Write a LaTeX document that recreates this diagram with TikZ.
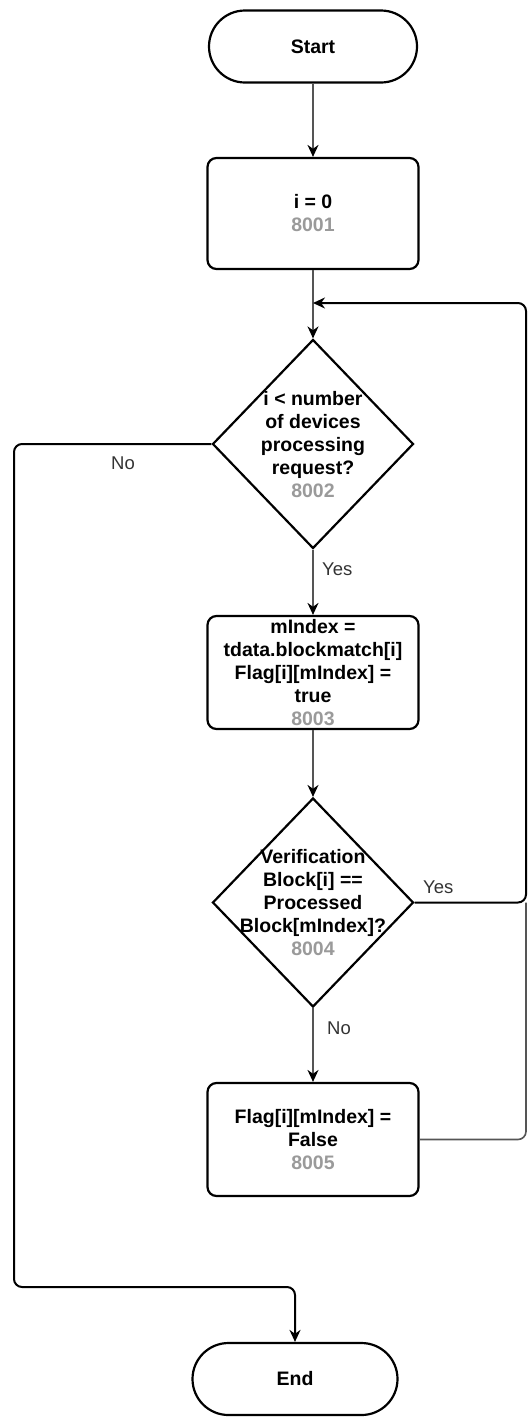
\documentclass[tikz,border=0pt]{standalone}
\usepackage{fontspec}
\setmainfont{Liberation Sans}
\usetikzlibrary{shapes.geometric,arrows.meta}
\definecolor{numgray}{HTML}{9A9A9A}
\definecolor{linegray}{HTML}{555555}
\definecolor{lblgray}{HTML}{333333}
\begin{document}
\begin{tikzpicture}[x=1pt,y=-1pt,
  txt/.style={font=\fontsize{19.5}{23}\selectfont\bfseries,align=center,inner sep=0pt},
  term/.style={draw,line width=2.2pt,rounded corners=36pt,minimum width=208pt,minimum height=72pt,inner sep=0pt,txt},
  proc/.style={draw,line width=2.2pt,rounded corners=9pt,minimum width=211pt,inner sep=0pt,txt},
  dec/.style={draw,diamond,line width=2.2pt,minimum width=201pt,minimum height=209pt,inner sep=0pt},
  conn/.style={draw=linegray,line width=1.8pt,-{Stealth[length=12pt,width=11pt,color=black]}},
  loopline/.style={draw=black,line width=2pt,rounded corners=8pt},
  lbl/.style={font=\fontsize{18.5}{22}\selectfont,text=lblgray,inner sep=0pt}]
\useasboundingbox (0,0) rectangle (530,1417);

\node[term] (start) at (313,46.5) {Start};
\node[proc,minimum height=111pt] (p1) at (313,213.5) {i = 0\\\textcolor{numgray}{8001}};
\node[dec] (d1) at (313,444) {};
\node[txt] (d1t) at (313,445) {i < number\\of devices\\processing\\request?\\\textcolor{numgray}{8002}};
\node[proc,minimum height=113pt] (p2) at (313,672.5) {mIndex =\\tdata.blockmatch[i]\\Flag[i][mIndex] =\\true\\\textcolor{numgray}{8003}};
\node[dec] (d2) at (313,902.5) {};
\node[txt] (d2t) at (313,903) {Verification\\Block[i] ==\\Processed\\Block[mIndex]?\\\textcolor{numgray}{8004}};
\node[proc,minimum height=113pt] (p3) at (313,1139.5) {Flag[i][mIndex] =\\False\\\textcolor{numgray}{8005}};
\node[term,minimum width=205pt] (end) at (295,1379) {End};

\draw[conn] (start) -- (p1);
\draw[conn] (p1) -- (d1);
\draw[conn] (d1) -- (p2);
\draw[conn] (p2) -- (d2);
\draw[conn] (d2) -- (p3);

\coordinate (rc) at (526,303);
\coordinate (lp) at (313,303);
\coordinate (rj) at (526,902.5);
\coordinate (nl) at (14,1287);

\draw[loopline,draw=linegray,line width=1.6pt] (p3.east) -| (rj);
\draw[loopline,-{Stealth[length=12pt,width=11pt]}] (d2.east) -| (rc) -- (lp);
\draw[loopline,-{Stealth[length=12pt,width=11pt]}] (d1.west) -| (nl) -| (end.north);

\node[lbl] (lno1) at (123,463) {No};
\node[lbl,anchor=west] (lyes1) at (322,569) {Yes};
\node[lbl,anchor=west] (lyes2) at (423,887) {Yes};
\node[lbl,anchor=west] (lno2) at (327,1028) {No};
\end{tikzpicture}
\end{document}
